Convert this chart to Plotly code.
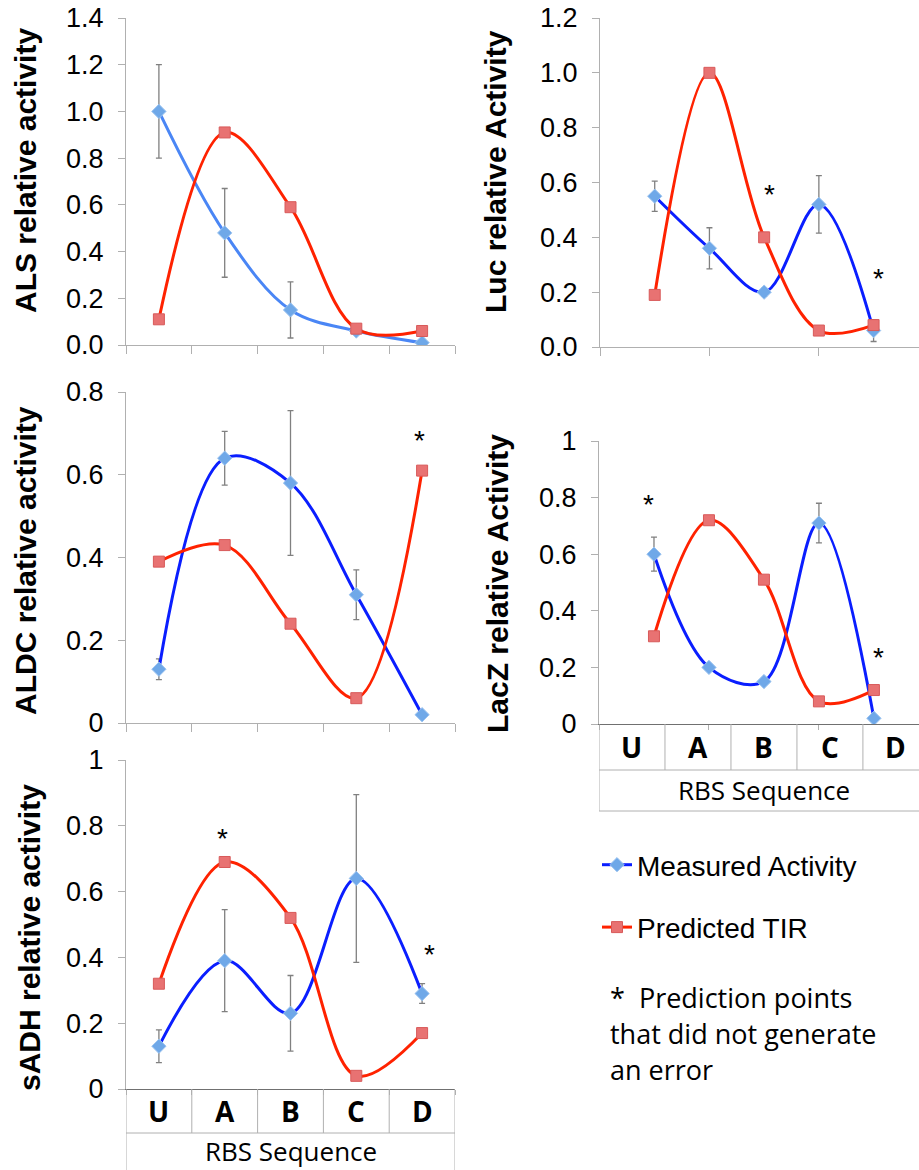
import plotly.graph_objects as go

W, H = 919, 1170

cats = ["U", "A", "B", "C", "D"]

als_meas = [1.00, 0.48, 0.15, 0.06, 0.01]
als_err = [0.20, 0.19, 0.12, 0.0, 0.0]
als_pred = [0.11, 0.91, 0.59, 0.07, 0.06]

luc_meas = [0.55, 0.36, 0.20, 0.52, 0.06]
luc_err = [0.055, 0.075, 0.015, 0.105, 0.04]
luc_pred = [0.19, 1.00, 0.40, 0.06, 0.08]

aldc_meas = [0.13, 0.64, 0.58, 0.31, 0.02]
aldc_err = [0.025, 0.065, 0.175, 0.06, 0.0]
aldc_pred = [0.39, 0.43, 0.24, 0.06, 0.61]

lacz_meas = [0.60, 0.20, 0.15, 0.71, 0.02]
lacz_err = [0.06, 0.01, 0.0, 0.07, 0.0]
lacz_pred = [0.31, 0.72, 0.51, 0.08, 0.12]

sadh_meas = [0.13, 0.39, 0.23, 0.64, 0.29]
sadh_err = [0.05, 0.155, 0.115, 0.255, 0.03]
sadh_pred = [0.32, 0.69, 0.52, 0.04, 0.17]

# asterisk marks: (panel, category index, y value)
stars = [
    ("luc", 2, 0.58), ("luc", 4, 0.277),
    ("aldc", 4, 0.70),
    ("lacz", 0, 0.80), ("lacz", 4, 0.26),
    ("sadh", 1, 0.784), ("sadh", 4, 0.43),
]
# small horizontal nudges of each asterisk (px), same order as stars
star_xshift = [5, 5, -3, -5, 5, -2, 7]

titles = {
    "als": "ALS relative activity",
    "luc": "Luc relative Activity",
    "aldc": "ALDC relative activity",
    "lacz": "LacZ relative Activity",
    "sadh": "sADH relative activity",
}

legend_names = ["Measured Activity", "Predicted TIR"]
footnote = ["*  Prediction points", "that did not generate", "an error"]
x_title = "RBS Sequence"

# ---- layout geometry (pixels) ----
def px_x(a, b):
    return [a / W, min(b / W, 1.0)]

def px_y(top, bottom):
    return [1 - bottom / H, 1 - top / H]

panels = {
    # key: (axis suffix, x domain px, y domain px, ymax, x offset, x range, title centre px)
    "als": ("", (126, 455), (18, 345), 1.4, 0, (-0.5, 4.5), (25, 171)),
    "luc": ("2", (600, 919), (18, 347), 1.2, 1, (0, 5.83), (495, 172)),
    "aldc": ("3", (126, 455), (392, 723), 0.8, 0, (-0.5, 4.5), (25, 561)),
    "lacz": ("4", (599, 919), (441, 724), 1.0, 1, (0, 5.82), (497, 583)),
    "sadh": ("5", (126, 455), (760, 1089), 1.0, 0, (-0.5, 4.5), (29, 938)),
}

data = {
    "als": (als_meas, als_err, als_pred),
    "luc": (luc_meas, luc_err, luc_pred),
    "aldc": (aldc_meas, aldc_err, aldc_pred),
    "lacz": (lacz_meas, lacz_err, lacz_pred),
    "sadh": (sadh_meas, sadh_err, sadh_pred),
}

BLUE = "#0a1eff"
LIGHTBLUE_LINE = "#4a86f5"
RED = "#ff2200"
DIAMOND = "#6fa8e8"
SQUARE = "#e87272"
AXIS = "#b0b0b0"
DARK = "#707070"

fig = go.Figure()

for key, (sfx, xd, yd, ymax, off, xr, tc) in panels.items():
    meas, err, pred = data[key]
    xs = [i + off for i in range(len(cats))]
    xa = "x" + sfx
    ya = "y" + sfx
    show = key == "sadh"
    fig.add_trace(go.Scatter(
        x=xs, y=meas, mode="lines+markers", xaxis=xa, yaxis=ya,
        name=legend_names[0], showlegend=show, legendgroup="m",
        line=dict(color=LIGHTBLUE_LINE if key == "als" else BLUE, width=3, shape="spline", smoothing=1.0),
        marker=dict(symbol="diamond", size=11, color=DIAMOND, line=dict(color="#9cc4f0", width=1)),
        error_y=dict(type="data", array=err, visible=True, color="#808080", thickness=1.3, width=3),
    ))
    fig.add_trace(go.Scatter(
        x=xs, y=pred, mode="lines+markers", xaxis=xa, yaxis=ya,
        name=legend_names[1], showlegend=show, legendgroup="p",
        line=dict(color=RED, width=3, shape="spline", smoothing=1.0),
        marker=dict(symbol="square", size=11, color=SQUARE, line=dict(color="#d85a5a", width=1)),
    ))

    table = key in ("lacz", "sadh")
    if off == 0:
        tv = [i - 0.5 for i in range(len(cats) + 1)]
    else:
        tv = [0, 2, 4]
    xaxis = dict(
        domain=px_x(*xd), range=list(xr), anchor=ya, showgrid=False, zeroline=False,
        showline=True, linecolor=DARK if table else AXIS, linewidth=1,
        ticks="outside", ticklen=8 if not table else 5, tickcolor=AXIS, tickvals=tv,
        showticklabels=False, fixedrange=True, automargin=False,
    )
    yaxis = dict(
        domain=px_y(*yd), range=[0, ymax], anchor=xa, showgrid=False, zeroline=False,
        showline=True, linecolor=AXIS, linewidth=1, ticks="outside", ticklen=7,
        tickcolor=AXIS, dtick=0.2, tick0=0,
        tickformat=".1f" if key in ("als", "luc") else None,
        tickfont=dict(family="Liberation Sans", size=27, color="#000"),
        ticklabelstandoff=9, fixedrange=True, automargin=False,
    )
    fig.layout["xaxis" + sfx] = xaxis
    fig.layout["yaxis" + sfx] = yaxis

    # axis title as rotated annotation
    fig.add_annotation(
        x=tc[0] / W, y=1 - tc[1] / H, xref="paper", yref="paper",
        text="<b>" + titles[key] + "</b>", textangle=-90, showarrow=False,
        font=dict(family="Liberation Sans", size=30, color="#000"),
        xanchor="center", yanchor="middle",
    )

# asterisks
for (key, idx, yv), xsh in zip(stars, star_xshift):
    sfx, xd, yd, ymax, off, xr, tc = panels[key]
    fig.add_annotation(
        x=idx + off, y=yv, xref="x" + sfx, yref="y" + sfx, text="*", showarrow=False,
        xshift=xsh, yshift=-7, font=dict(family="Liberation Sans", size=28, color="#000"),
    )

# category tables under LacZ and sADH
def add_table(key, bounds, centers, top_px, mid_px, bot_px, label_px):
    sfx = panels[key][0]
    xr = "x" + sfx
    t, m, b = 1 - top_px / H, 1 - mid_px / H, 1 - bot_px / H
    line = dict(color=AXIS, width=1)
    for xb in bounds:
        fig.add_shape(type="line", xref=xr, yref="paper", x0=xb, x1=xb, y0=t, y1=m, line=line)
    fig.add_shape(type="line", xref=xr, yref="paper", x0=bounds[0], x1=bounds[-1], y0=m, y1=m, line=line)
    fig.add_shape(type="line", xref=xr, yref="paper", x0=bounds[0], x1=bounds[-1], y0=b, y1=b, line=line)
    fig.add_shape(type="line", xref=xr, yref="paper", x0=bounds[0], x1=bounds[0], y0=m, y1=b, line=line)
    fig.add_shape(type="line", xref=xr, yref="paper", x0=bounds[-1], x1=bounds[-1], y0=m, y1=b, line=line)
    for c, xc in zip(cats, centers):
        fig.add_annotation(x=xc, y=(t + m) / 2, xref=xr, yref="paper", text="<b>" + c + "</b>",
                           showarrow=False, yanchor="middle",
                           font=dict(family="Open Sans", size=28, color="#000"))
    xm = (bounds[0] + bounds[-1]) / 2
    fig.add_annotation(x=xm, y=1 - label_px / H, xref=xr, yref="paper", text=x_title,
                       showarrow=False, yanchor="middle",
                       font=dict(family="Open Sans", size=26, color="#000"))

n = len(cats)
lacz_w = 1.2
add_table("lacz", [i * lacz_w for i in range(n + 1)], [(i + 0.5) * lacz_w for i in range(n)],
          724, 770, 811, 790)
add_table("sadh", [i - 0.5 for i in range(n + 1)], [i for i in range(n)],
          1089, 1133, 1185, 1151)

# footnote
for i, line_txt in enumerate(footnote):
    fig.add_annotation(x=608 / W, y=1 - (997 + 36 * i) / H, xref="paper", yref="paper",
                       text=line_txt, showarrow=False, xanchor="left", yanchor="middle",
                       font=dict(family="Open Sans", size=27, color="#000"))

fig.update_layout(
    width=W, height=H, margin=dict(l=0, r=0, t=0, b=0, pad=0, autoexpand=False),
    paper_bgcolor="white", plot_bgcolor="white",
    showlegend=True,
    legend=dict(x=597 / W, y=1 - 840 / H, xanchor="left", yanchor="top",
                font=dict(family="Liberation Sans", size=28, color="#000"),
                bgcolor="rgba(0,0,0,0)", tracegroupgap=23, traceorder="grouped",
                itemwidth=30),
)

fig.write_html("out.html")
